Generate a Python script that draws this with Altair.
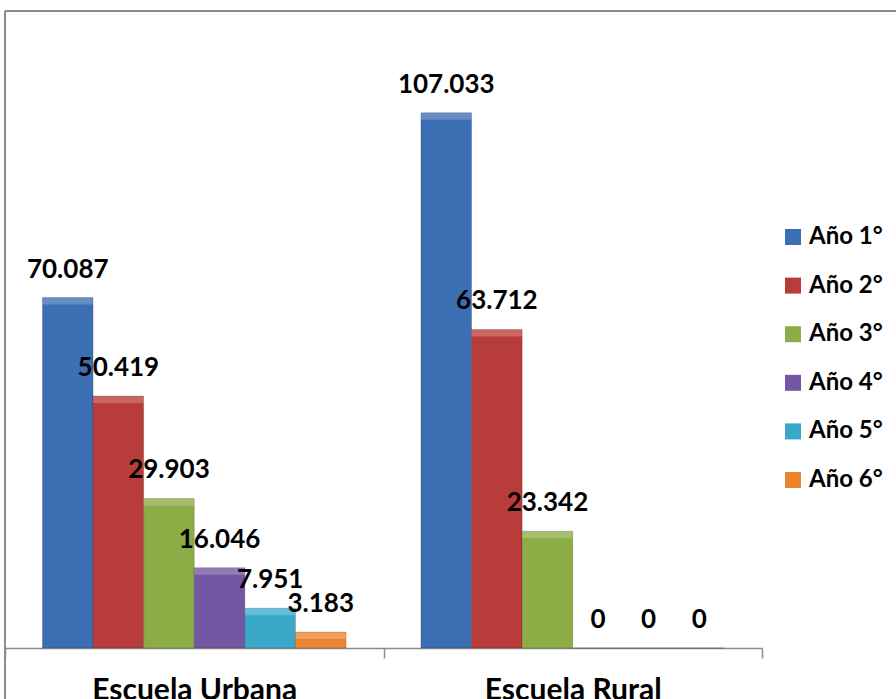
import altair as alt
import pandas as pd

escuelas = ["Escuela Urbana", "Escuela Rural"]
anos = ["Año 1°", "Año 2°", "Año 3°", "Año 4°", "Año 5°", "Año 6°"]
urbana = [70.087, 50.419, 29.903, 16.046, 7.951, 3.183]
rural = [107.033, 63.712, 23.342, 0, 0, 0]
colores = ["#3C6EB4", "#B83C39", "#8CAC46", "#7457A2", "#3AA9C9", "#EC8530"]

rows = []
for esc, vals in zip(escuelas, [urbana, rural]):
    for a, v in zip(anos, vals):
        rows.append({"escuela": esc, "ano": a, "valor": v,
                     "etiqueta": "0" if v == 0 else f"{v:.3f}"})
df = pd.DataFrame(rows)

FONT = "Lato"

x_enc = alt.X("escuela:N", sort=escuelas, title=None,
              scale=alt.Scale(paddingInner=0, paddingOuter=0),
              axis=alt.Axis(labelAngle=0, tickBand="extent", domainColor="#8c8c8c",
                            tickColor="#8c8c8c", tickSize=10, domainWidth=1.5,
                            tickWidth=1.5, labelFont=FONT, labelFontSize=30,
                            labelFontWeight="bold", labelColor="black",
                            labelPadding=17, labelLimit=400, grid=False))
xo_enc = alt.XOffset("ano:N", sort=anos, scale=alt.Scale(paddingOuter=0.74, paddingInner=0))
y_enc = alt.Y("valor:Q", axis=None, scale=alt.Scale(domain=[0, 127.4], nice=False))

base = alt.Chart(df)

bars = base.mark_bar(stroke="black", strokeOpacity=0.18, strokeWidth=1).encode(
    x=x_enc, xOffset=xo_enc, y=y_enc,
    color=alt.Color("ano:N", sort=anos,
                    scale=alt.Scale(domain=anos, range=colores),
                    legend=alt.Legend(title=None, orient="none", legendX=776, legendY=214,
                                      symbolType="square", symbolSize=256,
                                      symbolStrokeWidth=0, symbolOpacity=1,
                                      labelFont=FONT, labelFontSize=24,
                                      labelFontWeight="bold", labelColor="black",
                                      labelOffset=4, rowPadding=24.6, padding=0,
                                      labelLimit=200)),
)

bevel = base.mark_bar(color="white", opacity=0.22, y2Offset=7).encode(
    x=x_enc, xOffset=xo_enc, y=y_enc, y2="valor:Q",
).transform_filter("datum.valor > 0")

labels = base.mark_text(font=FONT, fontSize=26, fontWeight="bold", color="black",
                        dy=-20, baseline="alphabetic").encode(
    x=x_enc, xOffset=xo_enc, y=y_enc, text="etiqueta:N",
)

deco = alt.Data(values=[{"k": 1}])
top_line = alt.Chart(deco).mark_rule(color="#8c8c8c", strokeWidth=2).encode(
    x=alt.value(0), x2=alt.value(895), y=alt.value(0))
left_line = alt.Chart(deco).mark_rule(color="#8c8c8c", strokeWidth=2).encode(
    x=alt.value(0), y=alt.value(0), y2=alt.value(700))

chart = alt.layer(bars, bevel, labels, top_line, left_line).properties(
    width=757, height=637,
    padding={"left": 5, "top": 11, "right": 134, "bottom": 51},
    autosize=alt.AutoSizeParams(type="none"),
    background="white",
).configure_view(stroke=None)

chart.save("out.html", embed_options={"renderer": "svg", "actions": False})
